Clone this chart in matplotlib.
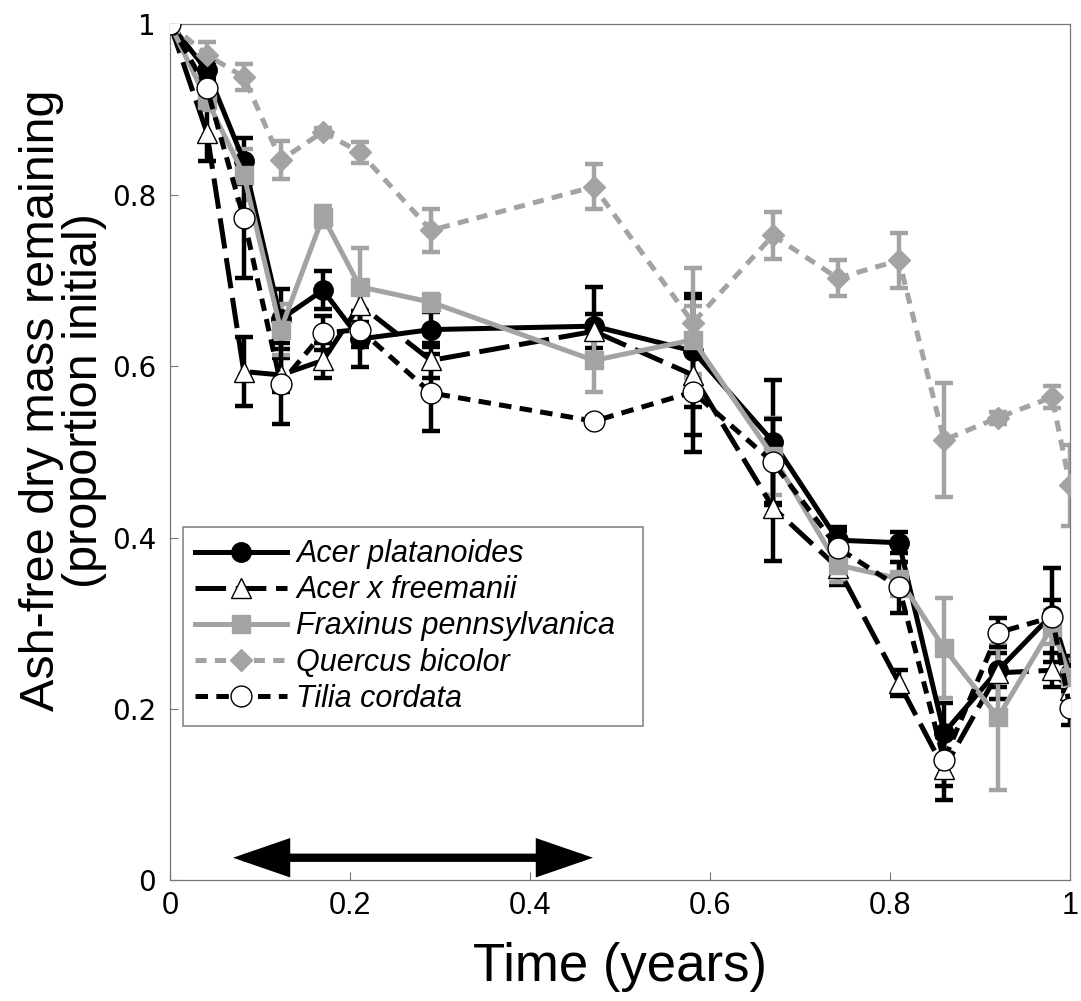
import matplotlib
matplotlib.use("Agg")
import matplotlib.pyplot as plt
import numpy as np

plt.rcParams['lines.scale_dashes'] = False

# ---- data ----
time_years = [0.0, 0.041, 0.082, 0.123, 0.170, 0.211, 0.290, 0.471, 0.581,
              0.670, 0.742, 0.810, 0.860, 0.920, 0.980, 1.000]

species = ["Acer platanoides", "Acer x freemanii", "Fraxinus pennsylvanica",
           "Quercus bicolor", "Tilia cordata"]

acer_plat = [1.0, 0.946, 0.840, 0.655, 0.689, 0.632, 0.643, 0.647, 0.618,
             0.512, 0.397, 0.394, 0.172, 0.245, 0.310, 0.242]
acer_plat_err = [0, 0.010, 0.027, 0.035, 0.022, 0.033, 0.020, 0.046, 0.066,
                 0.072, 0.015, 0.012, 0.035, 0.020, 0.055, 0.020]

acer_free = [1.0, 0.873, 0.594, 0.590, 0.607, 0.672, 0.607, 0.641, 0.590,
             0.435, 0.365, 0.230, 0.130, 0.242, 0.245, 0.222]
acer_free_err = [0, 0.033, 0.040, 0.020, 0.020, 0.020, 0.020, 0.020, 0.090,
                 0.062, 0.020, 0.015, 0.037, 0.030, 0.020, 0.020]

fraxinus = [1.0, 0.911, 0.824, 0.643, 0.775, 0.693, 0.675, 0.607, 0.631,
            0.495, 0.368, 0.352, 0.271, 0.190, 0.296, 0.237]
fraxinus_err = [0, 0.012, 0.030, 0.030, 0.012, 0.045, 0.010, 0.037, 0.040,
                0.045, 0.020, 0.020, 0.058, 0.085, 0.020, 0.020]

quercus = [1.0, 0.964, 0.938, 0.841, 0.874, 0.850, 0.759, 0.810, 0.651,
           0.753, 0.703, 0.724, 0.514, 0.540, 0.564, 0.461]
quercus_err = [0, 0.015, 0.015, 0.022, 0.005, 0.012, 0.025, 0.026, 0.064,
               0.027, 0.021, 0.032, 0.067, 0.007, 0.013, 0.047]

tilia = [1.0, 0.925, 0.773, 0.580, 0.639, 0.643, 0.569, 0.536, 0.570,
         0.488, 0.388, 0.342, 0.140, 0.289, 0.307, 0.201]
tilia_err = [0, 0.020, 0.070, 0.047, 0.020, 0.020, 0.045, 0.005, 0.050,
             0.050, 0.020, 0.030, 0.030, 0.017, 0.020, 0.020]

arrow_span = [0.07, 0.47]   # period indicated by the double arrow (years)
arrow_level = 0.026

x_ticks = [0, 0.2, 0.4, 0.6, 0.8, 1]
x_tick_labels = ["0", "0.2", "0.4", "0.6", "0.8", "1"]
y_ticks = [0, 0.2, 0.4, 0.6, 0.8, 1]
y_tick_labels = ["0", "0.2", "0.4", "0.6", "0.8", "1"]

# ---- styles ----
GRAY = "#a3a3a3"
LW = 3.6
styles = [
    dict(color="black", ls="-", marker="o", mfc="black", mec="black", ms=14),
    dict(color="black", ls=(0, (22, 7)), marker="^", mfc="white", mec="black", ms=14),
    dict(color=GRAY, ls="-", marker="s", mfc=GRAY, mec=GRAY, ms=13),
    dict(color=GRAY, ls=(0, (8, 6)), marker="D", mfc=GRAY, mec=GRAY, ms=11),
    dict(color="black", ls=(0, (9, 6)), marker="o", mfc="white", mec="black", ms=15),
]
means = [acer_plat, acer_free, fraxinus, quercus, tilia]
errs = [acer_plat_err, acer_free_err, fraxinus_err, quercus_err, tilia_err]

fig = plt.figure(figsize=(10.81, 10.01), dpi=100)
ax = fig.add_axes([170/1081, 121/1001, 900/1081, 856/1001])

handles = []
for name, m, e, st in zip(species, means, errs, styles):
    ax.errorbar(time_years, m, yerr=e, fmt="none", ecolor=st["color"],
                elinewidth=3.2, capsize=6.5, capthick=3.2, zorder=2)
    ln, = ax.plot(time_years, m, color=st["color"], linestyle=st["ls"], lw=LW,
                  marker=st["marker"], markersize=st["ms"],
                  markerfacecolor=st["mfc"], markeredgecolor=st["mec"],
                  markeredgewidth=1.0, label=name, zorder=3,
                  dash_capstyle="butt")
    handles.append(ln)

# double-headed arrow
ax.annotate("", xy=(arrow_span[0], arrow_level), xytext=(arrow_span[1], arrow_level),
            arrowprops=dict(arrowstyle="<|-|>,head_length=2.9,head_width=1.0",
                            color="black", lw=6, shrinkA=0, shrinkB=0,
                            joinstyle="miter"),
            zorder=4)

ax.set_xlim(0, 1)
ax.set_ylim(0, 1)
ax.set_xticks(x_ticks)
ax.set_xticklabels(x_tick_labels, fontsize=22, family="Liberation Sans")
ax.set_yticks(y_ticks)
ax.set_yticklabels(y_tick_labels, fontsize=20, family="DejaVu Sans")
ax.tick_params(direction="in", length=6, width=0.8, color="#777777", pad=10)
ax.tick_params(axis="x", pad=8)
for sp in ax.spines.values():
    sp.set_color("#777777")
    sp.set_linewidth(0.9)

ax.set_xlabel("Time (years)", fontsize=38, family="Liberation Sans")
ax.xaxis.set_label_coords(0.5, -0.072)
ax.set_ylabel("Ash-free dry mass remaining\n(proportion initial)", fontsize=35,
              family="Liberation Sans", linespacing=0.95)
ax.yaxis.set_label_coords(-0.07, 0.56)

leg = ax.legend(handles=handles, loc="upper left",
                bbox_to_anchor=(13/900, 0.181, 460/900, 0.2314), mode="expand",
                prop=dict(family="Liberation Sans", style="italic", size=22),
                handlelength=3.0, handletextpad=0.3, labelspacing=0.2,
                borderpad=0.4, borderaxespad=0, fancybox=False, framealpha=1,
                edgecolor="#888888", numpoints=1)
leg.get_frame().set_linewidth(1.2)

fig.savefig("out.png", dpi=100)
